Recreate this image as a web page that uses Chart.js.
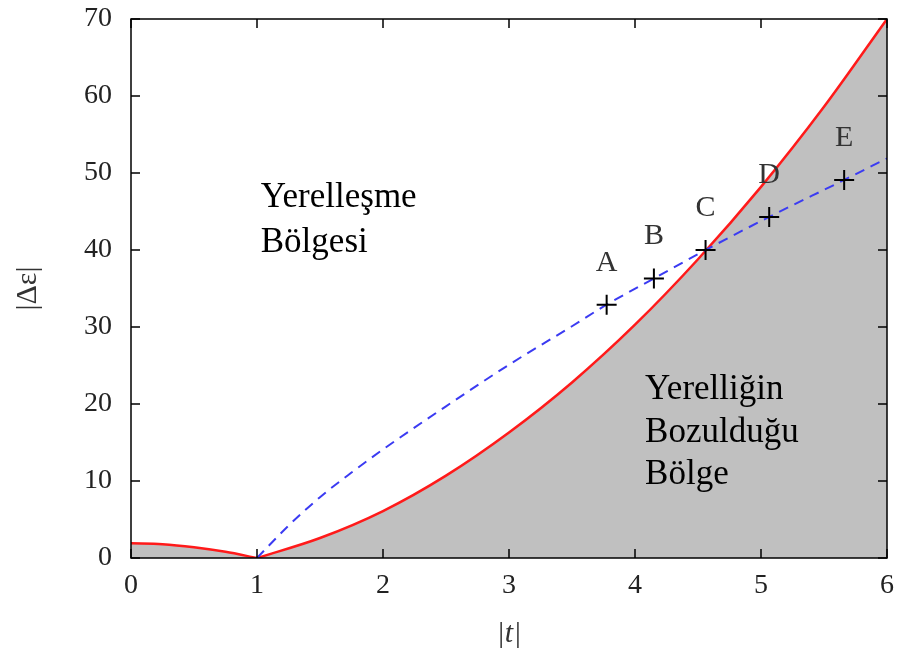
<!DOCTYPE html>
<html>
<head>
<meta charset="utf-8">
<script src="https://cdn.jsdelivr.net/npm/chart.js@4.4.1/dist/chart.umd.min.js"></script>
<style>
  html, body { margin: 0; padding: 0; background: #ffffff; }
  #wrap { width: 903px; height: 651px; }
</style>
</head>
<body>
<div id="wrap"><canvas id="phaseChart" width="903" height="651"></canvas></div>
<script>
// boundary curve (red): left branch and right branch
const leftT = [0, 0.25, 0.5, 0.75, 1];
const leftEps = [1.9, 1.8, 1.4, 0.8, 0];
const rightT = [1, 1.5, 2, 2.5, 3, 3.5, 4, 4.5, 5, 5.5, 6];
const rightEps = [0, 2.6, 6.1, 10.7, 16.3, 22.8, 30.3, 38.8, 48.2, 58.6, 70];

// dashed blue path
const pathT = [1, 1.25, 1.5, 1.75, 2, 2.5, 3, 3.5, 3.775, 4.15, 4.56, 5.065, 5.66, 6];
const pathEps = [0, 4.2, 7.9, 11.1, 14.1, 19.7, 25.1, 30.1, 32.9, 36.3, 40.0, 44.3, 49.1, 51.9];

// marked points
const pointNames = ["A", "B", "C", "D", "E"];
const pointT = [3.775, 4.15, 4.56, 5.065, 5.66];
const pointEps = [32.9, 36.3, 40.0, 44.3, 49.1];

const xTicks = [0, 1, 2, 3, 4, 5, 6];
const yTicks = [0, 10, 20, 30, 40, 50, 60, 70];

const serif = "\"Liberation Serif\", \"DejaVu Serif\", serif";

const toXY = (xs, ys) => xs.map((x, i) => ({ x: x, y: ys[i] }));

const framePlugin = {
  id: "frameAndText",
  afterDatasetsDraw(chart) {
    const { ctx, chartArea } = chart;
    const xs = chart.scales.x;
    const ys = chart.scales.y;
    const len = 9;
    ctx.save();
    ctx.strokeStyle = "#000000";
    ctx.lineWidth = 1.5;

    // inward ticks on all four sides
    ctx.beginPath();
    xs.ticks.forEach((t) => {
      const px = xs.getPixelForValue(t.value);
      ctx.moveTo(px, chartArea.bottom);
      ctx.lineTo(px, chartArea.bottom - len);
      ctx.moveTo(px, chartArea.top);
      ctx.lineTo(px, chartArea.top + len);
    });
    ys.ticks.forEach((t) => {
      const py = ys.getPixelForValue(t.value);
      ctx.moveTo(chartArea.left, py);
      ctx.lineTo(chartArea.left + len, py);
      ctx.moveTo(chartArea.right, py);
      ctx.lineTo(chartArea.right - len, py);
    });
    ctx.stroke();
    ctx.strokeRect(chartArea.left, chartArea.top, chartArea.right - chartArea.left, chartArea.bottom - chartArea.top);

    // point letters
    const meta = chart.getDatasetMeta(0);
    ctx.fillStyle = "#333333";
    ctx.font = "30px " + serif;
    ctx.textAlign = "center";
    ctx.textBaseline = "middle";
    meta.data.forEach((el, i) => {
      ctx.fillText(pointNames[i], el.x, el.y - 42);
    });

    // region names
    ctx.fillStyle = "#000000";
    ctx.font = "35px " + serif;
    ctx.textAlign = "left";
    ctx.textBaseline = "alphabetic";
    const left1 = xs.getPixelForValue(1.03);
    const base1 = ys.getPixelForValue(45.6);
    ctx.fillText("Yerelleşme", left1, base1);
    ctx.fillText("Bölgesi", left1, base1 + 45);
    const left2 = xs.getPixelForValue(4.08);
    const base2 = ys.getPixelForValue(20.6);
    ctx.fillText("Yerelliğin", left2, base2);
    ctx.fillText("Bozulduğu", left2, base2 + 42.5);
    ctx.fillText("Bölge", left2, base2 + 85);
    ctx.restore();
  }
};

const redLine = {
  showLine: true,
  borderColor: "#ff1a1a",
  borderWidth: 2.5,
  pointRadius: 0,
  fill: "origin",
  backgroundColor: "#c0c0c0",
  cubicInterpolationMode: "monotone"
};

new Chart(document.getElementById("phaseChart"), {
  type: "scatter",
  data: {
    datasets: [
      {
        label: "points",
        data: toXY(pointT, pointEps),
        showLine: false,
        pointStyle: "cross",
        pointRadius: 10,
        pointBorderWidth: 2,
        borderColor: "#000000",
        backgroundColor: "#000000"
      },
      {
        label: "path",
        data: toXY(pathT, pathEps),
        showLine: true,
        borderColor: "#3b3bf2",
        borderWidth: 2,
        borderDash: [10, 7],
        pointRadius: 0,
        cubicInterpolationMode: "monotone",
        fill: false
      },
      Object.assign({ label: "boundary right", data: toXY(rightT, rightEps) }, redLine),
      Object.assign({ label: "boundary left", data: toXY(leftT, leftEps) }, redLine)
    ]
  },
  options: {
    responsive: false,
    animation: false,
    devicePixelRatio: 1,
    layout: { padding: { top: 19, right: 16, left: 0, bottom: 0 } },
    plugins: {
      legend: { display: false },
      tooltip: { enabled: false }
    },
    scales: {
      x: {
        type: "linear",
        min: 0,
        max: 6,
        afterBuildTicks(scale) {
          scale.ticks = xTicks.map((v) => ({ value: v }));
        },
        afterFit(scale) {
          scale.height = 93;
          scale.paddingLeft = 0;
          scale.paddingRight = 0;
        },
        grid: { display: false, drawTicks: false },
        border: { display: false },
        ticks: {
          color: "#222222",
          padding: 11,
          maxRotation: 0,
          font: { family: serif, size: 28 }
        },
        title: {
          display: true,
          text: "|t|",
          color: "#333333",
          padding: { top: 0, bottom: 0 },
          font: { family: serif, size: 30, style: "italic", lineHeight: 1.1 }
        }
      },
      y: {
        type: "linear",
        min: 0,
        max: 70,
        afterBuildTicks(scale) {
          scale.ticks = yTicks.map((v) => ({ value: v }));
        },
        afterFit(scale) {
          scale.width = 131;
          scale.paddingTop = 0;
          scale.paddingBottom = 0;
        },
        grid: { display: false, drawTicks: false },
        border: { display: false },
        ticks: {
          color: "#222222",
          padding: 19,
          font: { family: serif, size: 28 }
        },
        title: {
          display: true,
          text: "|Δε|",
          color: "#333333",
          padding: { top: 10, bottom: 0 },
          font: { family: serif, size: 30, lineHeight: 1.2 }
        }
      }
    }
  },
  plugins: [framePlugin]
});
</script>
</body>
</html>
